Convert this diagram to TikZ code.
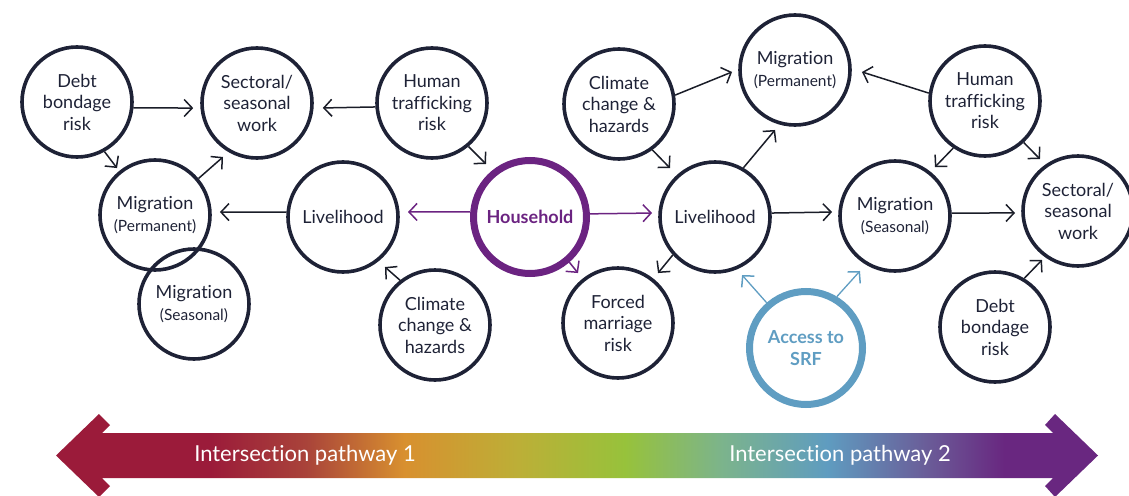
\documentclass[tikz,border=0pt]{standalone}
\usepackage{fontspec}
\setmainfont{Lato}[Ligatures={NoCommon}]
\usetikzlibrary{arrows.meta,calc}

\definecolor{navy}{HTML}{1E2236}
\definecolor{ink}{HTML}{1A1D28}
\definecolor{hhpurple}{HTML}{6B2381}
\definecolor{srfblue}{HTML}{5F9DC2}
\definecolor{barA}{HTML}{9B1B3A}
\definecolor{barB}{HTML}{A9433A}
\definecolor{barC}{HTML}{D8902F}
\definecolor{barD}{HTML}{BCAF37}
\definecolor{barE}{HTML}{97C23B}
\definecolor{barF}{HTML}{7CB48B}
\definecolor{barG}{HTML}{5F9CC0}
\definecolor{barH}{HTML}{6A5C98}
\definecolor{barI}{HTML}{692780}

% colour ramp of the pathway bar (the path fills the 25bp--75bp band)
\pgfdeclarehorizontalshading{pathbar}{100bp}{%
  color(0bp)=(barA); color(32.4bp)=(barA); color(37bp)=(barB);
  color(41.7bp)=(barC); color(47.2bp)=(barD); color(52.3bp)=(barE);
  color(56.9bp)=(barF); color(62bp)=(barG); color(66.8bp)=(barH);
  color(70.5bp)=(barI); color(100bp)=(barI)}

\newcommand{\bubfont}{\fontsize{18}{21.5}\selectfont}
\newcommand{\subfont}{\fontsize{15.5}{19}\selectfont}

\tikzset{
  bub/.style={circle, draw=navy, line width=3.6pt, minimum size=110pt,
    inner sep=0pt, align=center, text=navy, font=\bubfont},
  hub/.style={circle, line width=7pt, minimum size=113pt, inner sep=0pt,
    align=center, font=\bubfont\bfseries},
  conn/.style={draw=ink, line width=1.5pt,
    -{Straight Barb[length=8pt,width=17pt,line width=1.5pt]}},
  hhconn/.style={conn, draw=hhpurple},
  srfconn/.style={conn, draw=srfblue, line width=1.3pt},
  barlabel/.style={text=white, font=\fontsize{22}{26}\selectfont}
}

\begin{document}
\begin{tikzpicture}[x=1pt,y=-1pt]
\useasboundingbox (0,0) rectangle (1129,495);

% left cluster
\node[bub] (debtL)  at (77,102)  {Debt\\bondage\\risk};
\node[bub] (sectL)  at (257,103) {Sectoral/\\seasonal\\work};
\node[bub] (humL)   at (432,103) {Human\\trafficking\\risk};
\node[bub] (migPL)  at (155,215) {Migration\\{\subfont(Permanent)}};
\node[bub] (migSL)  at (194,304) {Migration\\{\subfont(Seasonal)}};
\node[bub] (livL)   at (343,217) {Livelihood};
\node[bub] (climL)  at (435,325) {Climate\\change \&\\hazards};

% centre
\node[hub, draw=hhpurple, text=hhpurple] (hh) at (530,217) {Household};
\node[bub] (forced) at (618,323) {Forced\\marriage\\risk};

% right cluster
\node[bub] (climR)  at (619,104) {Climate\\change \&\\hazards};
\node[bub] (migPR)  at (795,70)  {Migration\\{\subfont(Permanent)}};
\node[bub] (livR)   at (715,217) {Livelihood};
\node[bub] (migSR)  at (895,216) {Migration\\{\subfont(Seasonal)}};
\node[bub] (humR)   at (985,101) {Human\\trafficking\\risk};
\node[bub] (sectR)  at (1078,211) {Sectoral/\\seasonal\\work};
\node[bub] (debtR)  at (995,327) {Debt\\bondage\\risk};
\node[hub, draw=srfblue, text=srfblue] (srf) at (806,348) {Access to\\SRF};

% connectors, left cluster
\draw[conn] (debtL.-6)    -- ($(sectL)+(184.5:64pt)$);
\draw[conn] (humL.184.8)  -- ($(sectL)+(-4.3:66pt)$);
\draw[conn] (debtL.-61.7) -- ($(migPL)+(129:60.4pt)$);
\draw[conn] (migPL.40.2)  -- ($(sectL)+(237.8:63.8pt)$);
\draw[conn] (livL.175)    -- ($(migPL)+(2.6:65pt)$);
\draw[conn] (humL.-50.6)  -- ($(hh)+(129.7:68.9pt)$);
\draw[conn] (climL.128.2) -- ($(livL)+(-50:65.3pt)$);

% connectors from the household
\draw[hhconn] (hh.175.2)  -- ($(livL)+(4.4:65.2pt)$);
\draw[hhconn] (hh.3.8)    -- ($(livR)+(176.4:63.1pt)$);
\draw[hhconn] (hh.-49.7)  -- ($(forced)+(128.7:64pt)$);

% connectors, right cluster
\draw[conn] (livR.-138.5) -- ($(forced)+(51.3:64pt)$);
\draw[conn] (climR.9)     -- ($(migPR)+(181.8:63pt)$);
\draw[conn] (climR.-54.1) -- ($(livR)+(132.6:66.5pt)$);
\draw[conn] (livR.60.9)   -- ($(migPR)+(251.6:63.2pt)$);
\draw[conn] (livR.4.9)    -- ($(migSR)+(176.4:63.1pt)$);
\draw[conn] (humR.172.1)  -- ($(migPR)+(-1.7:67pt)$);
\draw[conn] (humR.-124)   -- ($(migSR)+(50.8:63.2pt)$);
\draw[conn] (humR.-47.7)  -- ($(sectR)+(126.2:64.4pt)$);
\draw[conn] (migSR.3)     -- ($(sectR)+(181.8:63pt)$);
\draw[conn] (debtR.59)    -- ($(sectR)+(233.7:60.8pt)$);

% connectors from access to SRF
\draw[srfconn] (srf.131)  -- ($(livR)+(-65:64pt)$);
\draw[srfconn] (srf.59.2) -- ($(migSR)+(237.5:65.2pt)$);

% double-headed pathway bar
\shade[shading=pathbar]
  (56,455.5) -- (99,414) -- (110,425) -- (102,433) -- (1053,433)
  -- (1045,425) -- (1055,414) -- (1098,455.5) -- (1055,497)
  -- (1045,486) -- (1053,478) -- (102,478) -- (110,486) -- (99,497)
  -- cycle;
\node[barlabel] (p1) at (305,455) {Intersection pathway 1};
\node[barlabel] (p2) at (840,455) {Intersection pathway 2};
\end{tikzpicture}
\end{document}
